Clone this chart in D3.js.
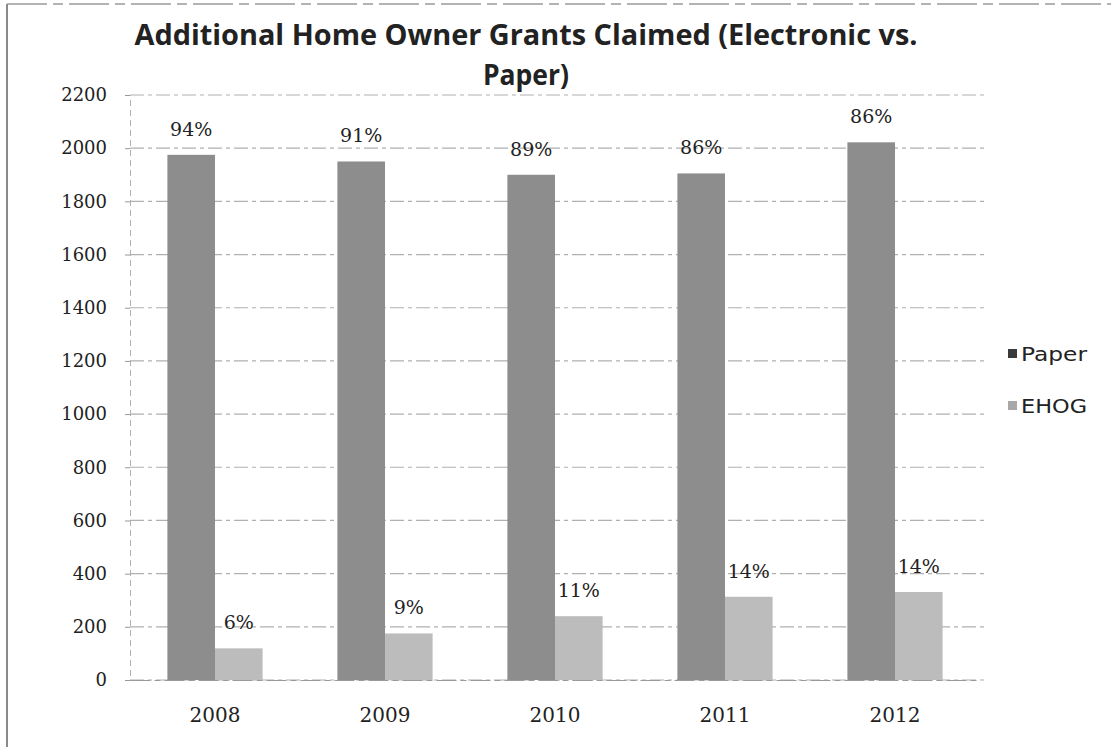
<!DOCTYPE html>
<html>
<head>
<meta charset="utf-8">
<script src="https://cdn.jsdelivr.net/npm/d3@7"></script>
<style>
  html, body { margin: 0; padding: 0; background: #fff; }
  svg { display: block; }
</style>
</head>
<body>
<svg id="chart" width="1111" height="747"></svg>
<script>
// Grant claims per year, split by filing channel
const years = ["2008", "2009", "2010", "2011", "2012"];
const seriesNames = ["Paper", "EHOG"];
const paperValues = [1975, 1950, 1900, 1905, 2022];
const ehogValues = [119, 175, 240, 313, 331];
const paperLabels = ["94%", "91%", "89%", "86%", "86%"];
const ehogLabels = ["6%", "9%", "11%", "14%", "14%"];
const yTicks = [0, 200, 400, 600, 800, 1000, 1200, 1400, 1600, 1800, 2000, 2200];
const titleLines = ["Additional Home Owner Grants Claimed (Electronic vs.", "Paper)"];

const barColors = { Paper: "#8d8d8d", EHOG: "#bcbcbc" };
const swatchColors = { Paper: "#3a3a3a", EHOG: "#a8a8a8" };

const rows = years.map((y, i) => ({
  year: y,
  values: [
    { series: "Paper", value: paperValues[i], label: paperLabels[i] },
    { series: "EHOG", value: ehogValues[i], label: ehogLabels[i] }
  ]
}));

const svg = d3.select("#chart");

// outer frame edges
svg.append("line").attr("x1", 7).attr("x2", 7).attr("y1", 4).attr("y2", 747)
  .attr("stroke", "#8a8a8a").attr("stroke-width", 2);
svg.append("line").attr("x1", 7).attr("x2", 1111).attr("y1", 4).attr("y2", 4)
  .attr("stroke", "#9a9a9a").attr("stroke-width", 1.5).attr("stroke-dasharray", "40,6,10,6");

const plot = { left: 130, right: 980, top: 95, bottom: 680 };

const y = d3.scaleLinear().domain([0, 2200]).range([plot.bottom, plot.top]);
const x0 = d3.scaleBand().domain(years).range([plot.left, plot.right])
  .paddingInner(0.44).paddingOuter(0.22);
const x1 = d3.scaleBand().domain(seriesNames).range([0, x0.bandwidth()]);

// horizontal gridlines
svg.append("g")
  .selectAll("line")
  .data(yTicks)
  .join("line")
  .attr("x1", plot.left)
  .attr("x2", plot.right + 6)
  .attr("y1", d => y(d))
  .attr("y2", d => y(d))
  .attr("stroke", "#8f8f8f")
  .attr("stroke-width", 1.2)
  .attr("stroke-dasharray", "14,4,4,4")
  .attr("opacity", 0.7);

// y axis
const yAxis = svg.append("g")
  .attr("transform", `translate(${plot.left},0)`)
  .call(d3.axisLeft(y).tickValues(yTicks).tickFormat(d3.format("d")).tickSize(5).tickPadding(18));
yAxis.select(".domain").attr("stroke", "#b0b0b0").attr("stroke-dasharray", "6,4");
yAxis.selectAll(".tick line").attr("stroke", "#999");
yAxis.selectAll("text")
  .attr("font-family", "'DejaVu Serif', serif")
  .attr("font-size", 18)
  .attr("fill", "#222");

// x axis labels
const xAxis = svg.append("g")
  .attr("transform", `translate(0,${plot.bottom})`)
  .call(d3.axisBottom(x0).tickSize(0).tickPadding(28));
xAxis.select(".domain").attr("stroke", "#9a9a9a").attr("stroke-dasharray", "20,4,6,4");
xAxis.selectAll("text")
  .attr("font-family", "'DejaVu Serif', serif")
  .attr("font-size", 20)
  .attr("fill", "#222");

// bars
const groups = svg.append("g")
  .selectAll("g")
  .data(rows)
  .join("g")
  .attr("transform", d => `translate(${x0(d.year)},0)`);

groups.selectAll("rect")
  .data(d => d.values)
  .join("rect")
  .attr("x", d => x1(d.series))
  .attr("y", d => y(d.value))
  .attr("width", x1.bandwidth())
  .attr("height", d => y(0) - y(d.value))
  .attr("fill", d => barColors[d.series]);

// percentage labels above bars
groups.selectAll("text")
  .data(d => d.values)
  .join("text")
  .attr("x", d => x1(d.series) + x1.bandwidth() / 2)
  .attr("y", d => y(d.value) - 19)
  .attr("text-anchor", "middle")
  .attr("font-family", "'DejaVu Serif', serif")
  .attr("font-size", 19)
  .attr("fill", "#222")
  .text(d => d.label);

// title
svg.append("text")
  .attr("x", 526).attr("y", 45)
  .attr("text-anchor", "middle")
  .attr("font-family", "'Open Sans', sans-serif")
  .attr("font-weight", 700)
  .attr("font-size", 28)
  .attr("fill", "#222")
  .attr("textLength", 783)
  .attr("lengthAdjust", "spacingAndGlyphs")
  .text(titleLines[0]);
svg.append("text")
  .attr("x", 526).attr("y", 85)
  .attr("text-anchor", "middle")
  .attr("font-family", "'Open Sans', sans-serif")
  .attr("font-weight", 700)
  .attr("font-size", 28)
  .attr("fill", "#222")
  .attr("textLength", 86)
  .attr("lengthAdjust", "spacingAndGlyphs")
  .text(titleLines[1]);

// legend
const legend = svg.append("g")
  .selectAll("g")
  .data(seriesNames)
  .join("g")
  .attr("transform", (d, i) => `translate(1008,${354 + i * 52})`);
legend.append("rect")
  .attr("x", 0).attr("y", -5).attr("width", 9).attr("height", 9)
  .attr("fill", d => swatchColors[d]);
legend.append("text")
  .attr("x", 13).attr("y", 0)
  .attr("dy", "0.35em")
  .attr("font-family", "'DejaVu Sans', sans-serif")
  .attr("font-size", 19)
  .attr("fill", "#222")
  .attr("textLength", 66)
  .attr("lengthAdjust", "spacingAndGlyphs")
  .text(d => d);
</script>
</body>
</html>
